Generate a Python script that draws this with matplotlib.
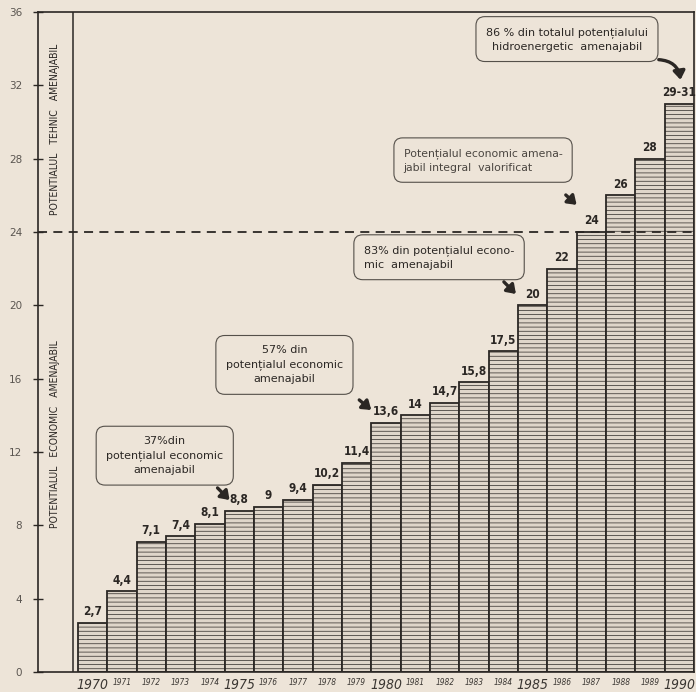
import matplotlib
matplotlib.use("Agg")
import matplotlib.pyplot as plt

# date (TWh/an)
ani = [str(a) for a in range(1970, 1991)]
valori = [2.7, 4.4, 7.1, 7.4, 8.1, 8.8, 9, 9.4, 10.2, 11.4, 13.6, 14, 14.7,
          15.8, 17.5, 20, 22, 24, 26, 28, 31]
etichete = ["2,7", "4,4", "7,1", "7,4", "8,1", "8,8", "9", "9,4", "10,2",
            "11,4", "13,6", "14", "14,7", "15,8", "17,5", "20", "22", "24",
            "26", "28", "29-31"]
ani_mari = ["1970", "1975", "1980", "1985", "1990"]
y_ticks = [0, 4, 8, 12, 16, 20, 24, 28, 32, 36]
prag_economic = 24

hirtie = "#ede4d8"
cerneala = "#2b2724"

plt.rcParams['hatch.color'] = "#857d74"
plt.rcParams['hatch.linewidth'] = 0.5

fig = plt.figure(figsize=(6.96, 6.92), dpi=100, facecolor=hirtie)
ax = fig.add_axes([38 / 696, 20 / 692, (694 - 38) / 696, (672 - 12) / 692])
ax.set_facecolor(hirtie)

x = list(range(len(valori)))
ax.bar(x, valori, width=1.0, facecolor="#dfd6ca", edgecolor=cerneala,
       linewidth=1.3, hatch="----", zorder=2)

for xi, v, e in zip(x, valori, etichete):
    ax.text(xi, v + 0.25, e, ha="center", va="bottom", fontsize=8.5,
            fontweight="bold", fontstretch="condensed", color=cerneala,
            zorder=4)

ax.set_xlim(-1.86, 20.5)
ax.set_ylim(0, 36)

# linia potentialului economic
ax.axhline(prag_economic, color=cerneala, lw=1.3, ls=(0, (5, 3.5)), zorder=3)
# banda din stinga
ax.axvline(-0.67, color=cerneala, lw=1.1, zorder=3)
ax.text(-1.27, 29.6, "POTENTIALUL   TEHNIC   AMENAJABIL", rotation=90,
        ha="center", va="center", fontsize=7.5, fontstretch="condensed",
        color=cerneala)
ax.text(-1.27, 13.0, "POTENTIALUL   ECONOMIC   AMENAJABIL", rotation=90,
        ha="center", va="center", fontsize=7.5, fontstretch="condensed",
        color=cerneala)

ax.set_yticks(y_ticks)
ax.tick_params(axis="y", direction="inout", length=7, width=1, pad=8,
               labelsize=7.5, labelcolor="#5a5550", color=cerneala)
ax.set_xticks(x)
ax.set_xticklabels(ani)
ax.tick_params(axis="x", length=0, pad=4, labelcolor="#3a3632")
for lab in ax.get_xticklabels():
    lab.set_style("italic")
    lab.set_fontstretch("condensed")
    lab.set_fontsize(10 if lab.get_text() in ani_mari else 6)

for s in ax.spines.values():
    s.set_color(cerneala)
    s.set_linewidth(1.2)

caseta = dict(boxstyle="round,pad=0.9,rounding_size=0.8", facecolor=hirtie,
              edgecolor="#55504a", linewidth=0.8)
sageata = dict(arrowstyle="-|>,head_width=0.35,head_length=0.5", lw=2.4,
               color=cerneala, shrinkA=0, shrinkB=0)

ax.text(2.46, 11.8, "37%din\npotențialul economic\namenajabil", ha="center",
        va="center", fontsize=8, linespacing=1.5, color=cerneala, bbox=caseta,
        zorder=5)
ax.annotate("", xy=(4.67, 9.38), xytext=(4.26, 10.04), arrowprops=sageata,
            zorder=5)

ax.text(6.54, 16.75, "57% din\npotențialul economic\namenajabil", ha="center",
        va="center", fontsize=8, linespacing=1.5, color=cerneala, bbox=caseta,
        zorder=5)
ax.annotate("", xy=(9.5, 14.29), xytext=(9.09, 14.84), arrowprops=sageata,
            zorder=5)

ax.text(11.81, 22.6, "83% din potențialul econo-\nmic  amenajabil", ha="center",
        va="center", fontsize=8, linespacing=1.4, color=cerneala, bbox=caseta,
        multialignment="left", zorder=5)
ax.annotate("", xy=(14.43, 20.62), xytext=(14.02, 21.28), arrowprops=sageata,
            zorder=5)

ax.text(13.31, 27.9, "Potențialul economic amena-\njabil integral  valorificat",
        ha="center", va="center", fontsize=7.8, linespacing=1.4,
        color="#4a4540", bbox=caseta, multialignment="left", zorder=5)
ax.annotate("", xy=(16.5, 25.48), xytext=(16.13, 26.02), arrowprops=sageata,
            zorder=5)

ax.text(16.17, 34.5, "86 % din totalul potențialului\nhidroenergetic  amenajabil",
        ha="center", va="center", fontsize=8, linespacing=1.4, color=cerneala,
        bbox=caseta, zorder=5)
ax.annotate("", xy=(20.04, 32.3), xytext=(19.3, 33.4),
            arrowprops=dict(sageata, connectionstyle="arc3,rad=-0.4"), zorder=5)

fig.savefig("out.png", dpi=100, facecolor=hirtie)
